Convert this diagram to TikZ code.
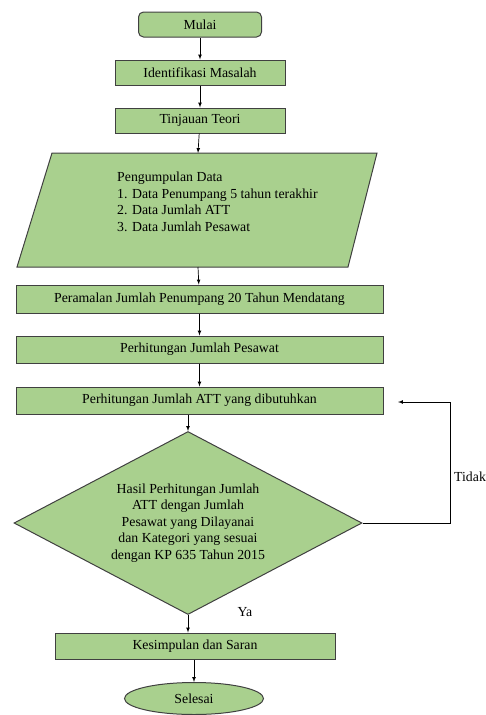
\documentclass[tikz,border=0pt]{standalone}
\usepackage{fontspec}
\setmainfont{Liberation Serif}
\usetikzlibrary{shapes.geometric}
\definecolor{flowgreen}{HTML}{A9D08E}
\tikzset{
  boxline/.style={draw=black!75, line width=1pt, fill=flowgreen},
  procbox/.style={boxline, rectangle, inner sep=0pt, font=\fontsize{13.8}{16.5}\selectfont},
  txt/.style={font=\fontsize{13.8}{16.5}\selectfont, inner sep=0pt},
  flow/.style={->, line width=.7pt}
}
\begin{document}
\begin{tikzpicture}[>=latex, x=1pt, y=-1pt]
        \useasboundingbox (0,0) rectangle (486,715);
        % boxes
        \node[procbox, rounded corners=5pt, minimum width=123, minimum height=25] (mulai) at (200,24.5) {Mulai};
        \node[procbox, minimum width=170, minimum height=25] (ident) at (200,72.5) {Identifikasi Masalah};
        \node[procbox, minimum width=170, minimum height=25] (teori) at (200,120.5) {Tinjauan Teori};
        \draw[boxline] (52,153)--(377,153)--(348,267)--(17,267)--cycle;
        \coordinate (datatop) at (198,153);
        \coordinate (databot) at (198,267);
        \node[txt, align=left, anchor=north west] (datatxt) at (117,172) {Pengumpulan Data\\1. Data Penumpang 5 tahun terakhir\\2. Data Jumlah ATT\\3. Data Jumlah Pesawat};
        \node[procbox, minimum width=367, minimum height=28] (ramal) at (199.5,299) {Peramalan Jumlah Penumpang 20 Tahun Mendatang};
        \node[procbox, minimum width=367, minimum height=27] (pesawat) at (199.5,349.5) {Perhitungan Jumlah Pesawat};
        \node[procbox, minimum width=367, minimum height=27] (att) at (199.5,400.5) {Perhitungan Jumlah ATT yang dibutuhkan};
        \node[boxline, diamond, aspect=1.9, inner sep=0pt, minimum width=348, minimum height=183, txt, align=center] (dec) at (188,523) {Hasil Perhitungan Jumlah\\ATT dengan Jumlah\\Pesawat yang Dilayanai\\dan Kategori yang sesuai\\dengan KP 635 Tahun 2015};
        \node[procbox, minimum width=280, minimum height=26] (simpul) at (195,646) {Kesimpulan dan Saran};
        \node[boxline, ellipse, inner sep=0pt, minimum width=139, minimum height=32, txt] (selesai) at (194,698.5) {Selesai};
        % arrows
        \draw[flow] (mulai)--(ident);
        \draw[flow] (ident)--(teori);
        \draw[flow] (teori)--(datatop);
        \draw[flow] (databot)--(ramal);
        \draw[flow] (ramal)--(pesawat);
        \draw[flow] (pesawat)--(att);
        \draw[flow] (att.south -| dec.north)--(dec.north);
        \draw[flow] (dec.south)--(dec.south |- simpul.north);
        \draw[flow] (simpul.south -| selesai.north)--(selesai);
        % loop back
        \coordinate (loopc) at (450,402);
        \coordinate (loopend) at (398,402);
        \draw[flow] (dec.east) -| (loopc)--(loopend);
        \node[txt, anchor=west] (tidak) at (454,477) {Tidak};
        \node[txt] (ya) at (245,612) {Ya};
\end{tikzpicture}
\end{document}
